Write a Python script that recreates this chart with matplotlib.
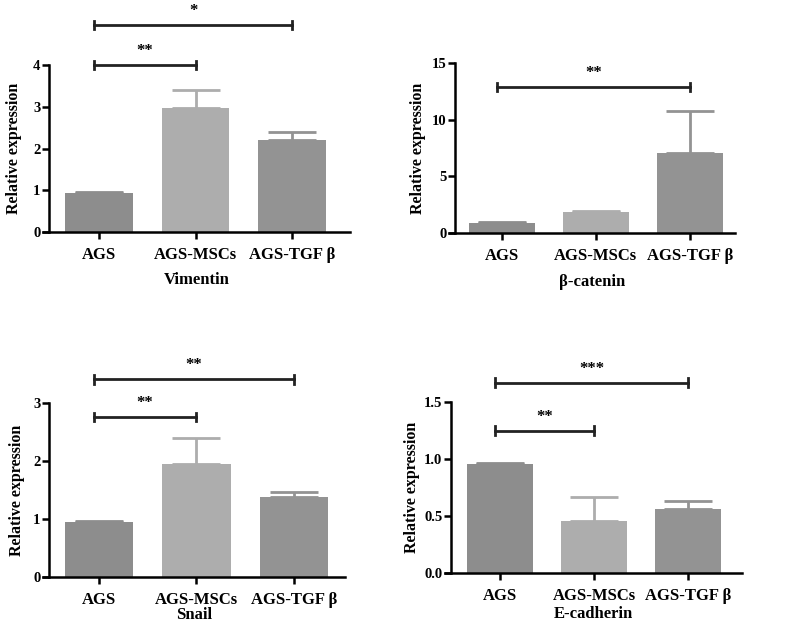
import numpy as np
import matplotlib.pyplot as plt

plt.rcParams["font.family"] = ["Liberation Serif", "DejaVu Serif"]
plt.rcParams["font.weight"] = "bold"

groups = ["AGS", "AGS-MSCs", "AGS-TGF β"]
bar_colors = ["#8d8d8d", "#adadad", "#939393"]

vimentin_mean = [0.93, 2.97, 2.20]
vimentin_err = [0.03, 0.43, 0.19]
catenin_mean = [0.88, 1.85, 7.10]
catenin_err = [0.10, 0.10, 3.70]
snail_mean = [0.95, 1.95, 1.38]
snail_err = [0.02, 0.45, 0.09]
ecad_mean = [0.955, 0.455, 0.56]
ecad_err = [0.01, 0.21, 0.075]

# (left group, right group, height, label)
vimentin_sig = [(0, 1, 4.0, "**"), (0, 2, 4.96, "*")]
catenin_sig = [(0, 2, 12.9, "**")]
snail_sig = [(0, 1, 2.76, "**"), (0, 2, 3.41, "**")]
ecad_sig = [(0, 1, 1.25, "**"), (0, 2, 1.67, "***")]

panels = [
    ("Vimentin", vimentin_mean, vimentin_err, vimentin_sig, [0, 1, 2, 3, 4], ["0", "1", "2", "3", "4"],
     [43, 350, 232, 65], (-0.52, 2.6), 48, 8),
    ("β-catenin", catenin_mean, catenin_err, catenin_sig, [0, 5, 10, 15], ["0", "5", "10", "15"],
     [449, 735, 233, 63], (-0.5, 2.48), 49, 4),
    ("Snail", snail_mean, snail_err, snail_sig, [0, 1, 2, 3], ["0", "1", "2", "3"],
     [43, 345, 577, 403], (-0.51, 2.52), 38, 6),
    ("E-cadherin", ecad_mean, ecad_err, ecad_sig, [0, 0.5, 1.0, 1.5], ["0.0", "0.5", "1.0", "1.5"],
     [445, 742, 573, 402], (-0.52, 2.57), 41, 3),
]

W, H = 790, 623
fig = plt.figure(figsize=(W / 100, H / 100), dpi=100)

for name, mean, err, sig, yticks, ylabels, box, xl, lab_off, ypad in panels:
    left, right, bottom, top = box
    ax = fig.add_axes([left / W, 1 - bottom / H, (right - left) / W, (bottom - top) / H])
    x = np.arange(len(groups))
    ax.bar(x, mean, width=0.7, color=bar_colors, zorder=2)
    for i in range(len(groups)):
        ax.errorbar(x[i], mean[i], yerr=[[0], [err[i]]], fmt="none",
                    ecolor=bar_colors[i], elinewidth=2, capsize=17, capthick=2, zorder=1)
    ax.set_xlim(xl[0] - 0.06, xl[1])
    ax.set_ylim(yticks[0], yticks[-1])
    ax.spines["left"].set_position(("data", xl[0]))
    ax.spines["top"].set_visible(False)
    ax.spines["right"].set_visible(False)
    ax.spines["left"].set_linewidth(1.8)
    ax.spines["bottom"].set_linewidth(1.8)
    ax.set_yticks(yticks)
    ax.set_yticklabels(ylabels, fontsize=10.5, fontweight="bold")
    ax.set_xticks(x)
    ax.set_xticklabels(groups, fontsize=12, fontweight="bold")
    ax.tick_params(axis="both", direction="out", width=1.8, length=5)
    ax.tick_params(axis="y", pad=1)
    ax.tick_params(axis="x", pad=6)
    ax.set_ylabel("Relative expression", fontsize=11.5, fontweight="bold", labelpad=ypad)
    ax.set_xlabel(name, fontsize=12, fontweight="bold", va="center")
    ax.xaxis.set_label_coords(0.5, -lab_off / (bottom - top))
    ymax = yticks[-1]
    for a, b, h, txt in sig:
        xa, xb = x[a] - 0.05, x[b]
        cap = ymax * 0.025
        ax.plot([xa, xb], [h, h], color="#222222", lw=2, clip_on=False)
        ax.plot([xa, xa], [h - cap, h + cap], color="#222222", lw=2, clip_on=False)
        ax.plot([xb, xb], [h - cap, h + cap], color="#222222", lw=2, clip_on=False)
        ax.text((xa + xb) / 2, h + ymax * 0.035, txt, ha="center", va="bottom",
                fontsize=12, fontweight="bold", clip_on=False)

fig.savefig("out.png", dpi=100)
